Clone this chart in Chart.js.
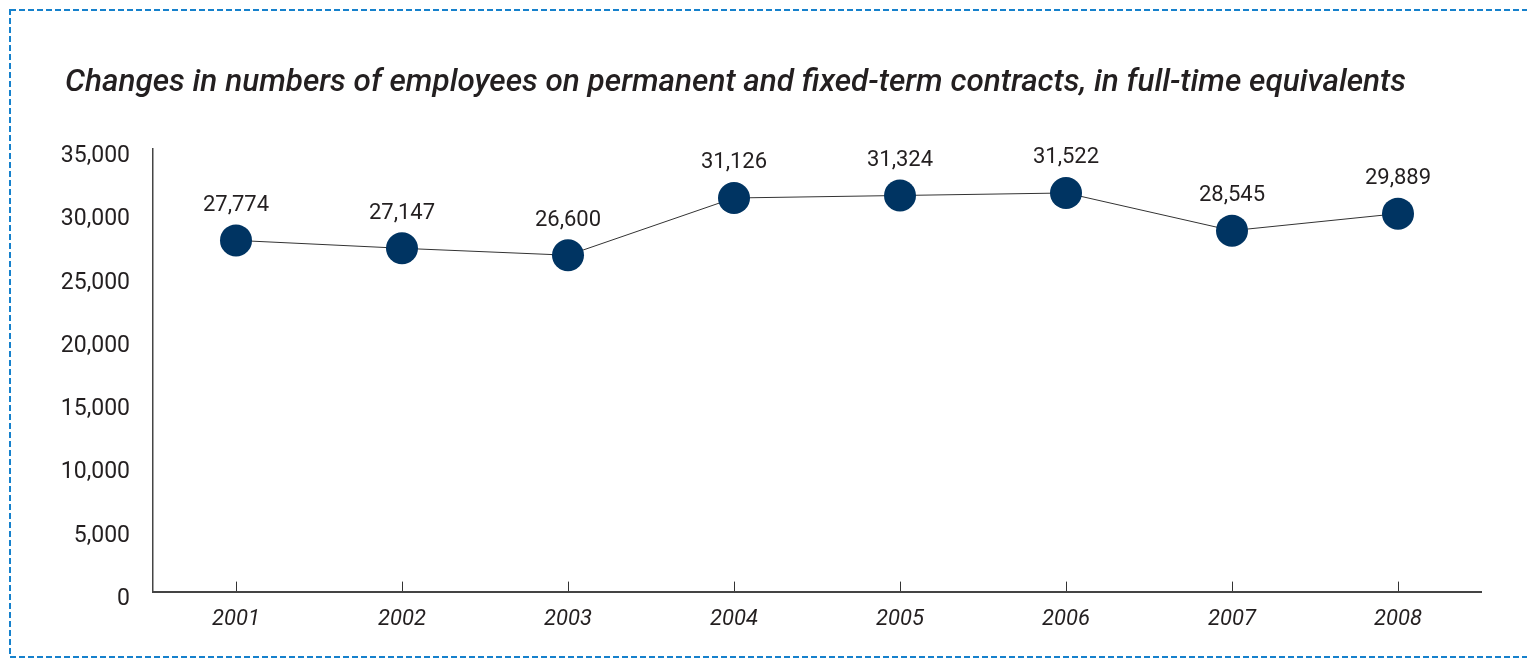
<!DOCTYPE html>
<html lang="en">

<head>
  <meta charset="UTF-8">
  <title>Employees in full-time equivalents</title>
  <script src="https://cdn.jsdelivr.net/npm/chart.js"></script>
  <style>
    body {
      margin: 0;
      background: #ffffff;
    }

    .grafico {
      position: relative;
      width: 1527px;
      height: 659px;
    }

    .titulo {
      position: absolute;
      left: 65px;
      top: 62px;
      margin: 0;
      font-family: Roboto, sans-serif;
      font-size: 31.5px;
      font-style: italic;
      font-weight: 500;
      line-height: normal;
      color: #231f20;
      white-space: nowrap;
    }
  </style>
</head>

<body>
  <div class="grafico">
    <canvas id="graficoFuncionarios"></canvas>
    <h2 class="titulo" id="titulo"></h2>
  </div>

  <script>
    // Data
    var anos = ['2001', '2002', '2003', '2004', '2005', '2006', '2007', '2008'];
    var funcionarios = [27774, 27147, 26600, 31126, 31324, 31522, 28545, 29889];
    var ticksY = [0, 5000, 10000, 15000, 20000, 25000, 30000, 35000];

    var titulo = 'Changes in numbers of employees on permanent and fixed-term contracts, in full-time equivalents';
    var fonte = 'Roboto';

    document.getElementById('titulo').textContent = titulo;

    function formatar(valor) {
      return valor.toLocaleString('en-US');
    }

    // dashed frame around the whole figure
    var moldura = {
      id: 'moldura',
      beforeDraw: function (chart) {
        var ctx = chart.ctx;
        ctx.save();
        ctx.strokeStyle = '#1681cc';
        ctx.lineWidth = 2;
        ctx.setLineDash([6, 3]);
        ctx.strokeRect(10, 10, chart.width + 20, 647);
        ctx.restore();
      }
    };

    // value labels above each point
    var rotulos = {
      id: 'rotulos',
      afterDatasetsDraw: function (chart) {
        var ctx = chart.ctx;
        var meta = chart.getDatasetMeta(0);
        ctx.save();
        ctx.fillStyle = '#231f20';
        ctx.font = '22px ' + fonte;
        ctx.textAlign = 'center';
        ctx.textBaseline = 'middle';
        meta.data.forEach(function (ponto, i) {
          ctx.fillText(formatar(funcionarios[i]), ponto.x, ponto.y - 35);
        });
        ctx.restore();
      }
    };

    var ctx = document.getElementById('graficoFuncionarios').getContext('2d');
    var myChart = new Chart(ctx, {
      type: 'line',
      data: {
        labels: anos,
        datasets: [{
          data: funcionarios,
          borderColor: '#333333',
          borderWidth: 1,
          pointRadius: 16,
          pointHoverRadius: 16,
          pointBackgroundColor: '#003462',
          pointBorderWidth: 0,
          tension: 0
        }]
      },
      options: {
        responsive: true,
        maintainAspectRatio: false,
        animation: false,
        layout: {
          padding: { left: 30, right: 46, top: 149, bottom: 1 }
        },
        plugins: {
          legend: { display: false },
          tooltip: { enabled: false },
          title: { display: false }
        },
        scales: {
          x: {
            offset: true,
            grid: {
              display: true,
              drawOnChartArea: false,
              drawTicks: true,
              tickLength: -10,
              color: '#333333',
              lineWidth: 1
            },
            border: { display: true, color: '#444444', width: 2 },
            ticks: {
              color: '#231f20',
              padding: 25,
              font: { family: fonte, size: 22, style: 'italic' }
            }
          },
          y: {
            min: 0,
            max: 35000,
            afterBuildTicks: function (scale) {
              scale.ticks = ticksY.map(function (v) { return { value: v }; });
            },
            afterFit: function (scale) {
              scale.width = 123;
            },
            grid: { display: false, drawTicks: false },
            border: { display: true, color: '#444444', width: 1.5 },
            ticks: {
              color: '#231f20',
              padding: 23,
              labelOffset: 7.5,
              font: { family: fonte, size: 23 },
              callback: function (valor) {
                return formatar(valor);
              }
            }
          }
        }
      },
      plugins: [moldura, rotulos]
    });
  </script>
</body>

</html>
